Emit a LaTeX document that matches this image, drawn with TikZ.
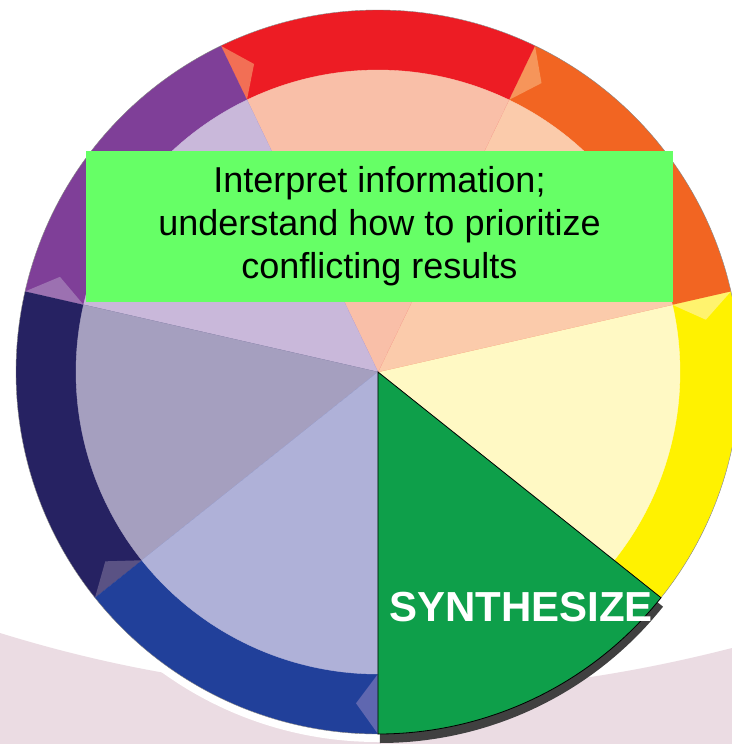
\documentclass[tikz,border=0pt]{standalone}
\usepackage{fontspec}
\setsansfont{Liberation Sans}
\usepackage{tikz}
\usetikzlibrary{positioning}
\definecolor{backpink}{HTML}{EBDCE3}
\definecolor{boxgreen}{HTML}{66FF66}
\definecolor{stagegreen}{HTML}{0E9F4A}
\definecolor{shadowgrey}{HTML}{404040}
\definecolor{ringyellow}{HTML}{FFF200}
\definecolor{ringorange}{HTML}{F26522}
\definecolor{ringred}{HTML}{ED1C24}
\definecolor{ringpurple}{HTML}{7F3F98}
\definecolor{ringnavy}{HTML}{262262}
\definecolor{ringblue}{HTML}{21409A}
\definecolor{softyellow}{HTML}{FFF9C4}
\definecolor{softorange}{HTML}{FBCBAB}
\definecolor{softred}{HTML}{F9BFA8}
\definecolor{softpurple}{HTML}{C9B8DA}
\definecolor{softnavy}{HTML}{A59FBF}
\definecolor{softblue}{HTML}{AFB1D8}
\definecolor{tipyellow}{HTML}{FFF36E}
\definecolor{tiporange}{HTML}{F6955A}
\definecolor{tipred}{HTML}{F26F55}
\definecolor{tippurple}{HTML}{9C71B1}
\definecolor{tipnavy}{HTML}{5A5284}
\definecolor{tipblue}{HTML}{5F67B0}
\tikzset
{
	infobox/.style = {rectangle, fill=boxgreen, align=center, inner sep=0pt, minimum width=440.25pt, minimum height=113.25pt, font=\sffamily\fontsize{27}{32.25}\selectfont},
	stagename/.style = {anchor=base west, inner sep=0pt, text=white, font=\sffamily\bfseries\fontsize{31.5}{36}\selectfont},
	rimline/.style = {draw=black!50, line width=0.3pt}
}

\begin{document}
\begin{tikzpicture}[x=0.75pt, y=0.75pt]
\useasboundingbox (-378,-372) rectangle (354,372);
\clip (-378,-372) rectangle (354,372);
\fill[white] (-378,-372) rectangle (354,372);
% backdrop band and halo
\fill[backpink] (-378,-261) .. controls (-139,-335) and (105,-340) .. (354,-276) -- (354,-372) -- (-378,-372) -- cycle;
\fill[white] (0,0) circle[radius=370];
% wheel segments
\foreach \a/\ring/\soft/\tip in {-38.57/ringyellow/softyellow/tipyellow, 12.86/ringorange/softorange/tiporange, 64.29/ringred/softred/tipred, 115.71/ringpurple/softpurple/tippurple, 167.14/ringnavy/softnavy/tipnavy, 218.57/ringblue/softblue/tipblue}
{
	\fill[\ring] (0,0) -- (\a:362) arc[start angle=\a, delta angle=51.43, radius=362] -- cycle;
	\filldraw[fill=\soft, draw=\soft, line width=0.3pt] (0,0) -- (\a:302) arc[start angle=\a, delta angle=51.43, radius=302] -- cycle;
	\fill[\tip] ({\a+51.43}:362) -- ({\a+47.63}:332) -- ({\a+51.43}:302) -- cycle;
}
\draw[rimline] (0,0) circle[radius=362];
% highlighted stage
\begin{scope}[shift={(2,-9)}]
	\fill[shadowgrey] (0,0) -- (-90:362) arc[start angle=-90, end angle=-38.57, radius=362] -- cycle;
\end{scope}
\filldraw[fill=stagegreen, draw=black, line width=0.6pt] (0,0) -- (-90:362) arc[start angle=-90, end angle=-38.57, radius=362] -- cycle;
\node[infobox] (info) at (1.5,145.5) {Interpret information;\\understand how to prioritize\\conflicting results};
\node[stagename] (synth) at (11,-249) {SYNTHESIZE};
\end{tikzpicture}
\end{document}
